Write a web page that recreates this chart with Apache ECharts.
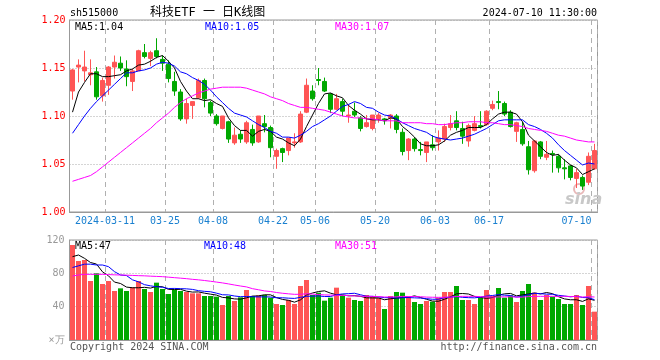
<!DOCTYPE html>
<html><head><meta charset="utf-8">
<script src="https://cdn.jsdelivr.net/npm/echarts/dist/echarts.min.js"></script>
<style>html,body{margin:0;padding:0;background:#fff}#c{width:660px;height:360px}</style>
</head><body><div id="c"></div>
<script>
const dates = [
'2024-03-01','2024-03-04','2024-03-05','2024-03-06','2024-03-07','2024-03-08',
'2024-03-11','2024-03-12','2024-03-13','2024-03-14','2024-03-15',
'2024-03-18','2024-03-19','2024-03-20','2024-03-21','2024-03-22',
'2024-03-25','2024-03-26','2024-03-27','2024-03-28','2024-03-29',
'2024-04-01','2024-04-02','2024-04-03',
'2024-04-08','2024-04-09','2024-04-10','2024-04-11','2024-04-12',
'2024-04-15','2024-04-16','2024-04-17','2024-04-18','2024-04-19',
'2024-04-22','2024-04-23','2024-04-24','2024-04-25','2024-04-26',
'2024-04-29','2024-04-30',
'2024-05-06','2024-05-07','2024-05-08','2024-05-09','2024-05-10',
'2024-05-13','2024-05-14','2024-05-15','2024-05-16','2024-05-17',
'2024-05-20','2024-05-21','2024-05-22','2024-05-23','2024-05-24',
'2024-05-27','2024-05-28','2024-05-29','2024-05-30','2024-05-31',
'2024-06-03','2024-06-04','2024-06-05','2024-06-06','2024-06-07',
'2024-06-11','2024-06-12','2024-06-13','2024-06-14',
'2024-06-17','2024-06-18','2024-06-19','2024-06-20','2024-06-21',
'2024-06-24','2024-06-25','2024-06-26','2024-06-27','2024-06-28',
'2024-07-01','2024-07-02','2024-07-03','2024-07-04','2024-07-05',
'2024-07-08','2024-07-09','2024-07-10'];

const opens = [1.126,1.151,1.147,1.143,1.146,1.121,1.132,1.151,1.155,1.149,
1.136,1.147,1.166,1.160,1.168,1.159,1.154,1.136,1.125,1.097,
1.111,1.119,1.137,1.114,1.100,1.087,1.094,1.072,1.081,1.073,
1.086,1.073,1.092,1.088,1.058,1.066,1.064,1.072,1.073,1.104,
1.126,1.138,1.136,1.123,1.107,1.115,1.100,1.105,1.098,1.089,
1.087,1.097,1.097,1.098,1.100,1.083,1.064,1.076,1.065,1.062,
1.070,1.073,1.076,1.088,1.095,1.087,1.074,1.085,1.090,1.091,
1.108,1.115,1.113,1.104,1.084,1.086,1.068,1.043,1.073,1.057,
1.061,1.058,1.046,1.048,1.035,1.036,1.031,1.045];
const closes = [1.148,1.153,1.151,1.145,1.120,1.137,1.151,1.156,1.150,1.141,
1.147,1.168,1.162,1.166,1.162,1.155,1.139,1.126,1.097,1.113,
1.115,1.137,1.118,1.103,1.092,1.100,1.076,1.080,1.076,1.093,
1.072,1.100,1.089,1.067,1.064,1.062,1.077,1.073,1.102,1.132,
1.118,1.137,1.126,1.107,1.118,1.105,1.101,1.101,1.087,1.093,
1.101,1.101,1.095,1.101,1.086,1.063,1.076,1.066,1.064,1.073,
1.067,1.077,1.089,1.092,1.088,1.079,1.090,1.092,1.089,1.105,
1.112,1.114,1.102,1.089,1.093,1.071,1.044,1.074,1.058,1.060,
1.060,1.046,1.045,1.036,1.041,1.027,1.058,1.064];
const lows = [1.117,1.135,1.136,1.132,1.117,1.115,1.122,1.139,1.147,1.131,
1.126,1.147,1.160,1.152,1.160,1.147,1.135,1.121,1.095,1.092,
1.097,1.118,1.109,1.100,1.090,1.086,1.072,1.070,1.072,1.071,
1.069,1.072,1.083,1.057,1.045,1.052,1.059,1.067,1.072,1.103,
1.116,1.132,1.125,1.103,1.106,1.100,1.093,1.099,1.084,1.088,
1.085,1.093,1.091,1.087,1.082,1.059,1.054,1.063,1.059,1.052,
1.064,1.064,1.073,1.085,1.085,1.071,1.068,1.084,1.087,1.090,
1.106,1.107,1.100,1.088,1.073,1.069,1.039,1.041,1.055,1.054,
1.041,1.041,1.034,1.033,1.025,1.023,1.028,1.044];
const highs = [1.149,1.159,1.168,1.159,1.151,1.140,1.152,1.163,1.162,1.158,
1.149,1.169,1.175,1.168,1.181,1.163,1.158,1.146,1.128,1.118,
1.115,1.139,1.139,1.116,1.102,1.100,1.095,1.088,1.085,1.095,
1.091,1.100,1.101,1.090,1.066,1.067,1.077,1.082,1.105,1.139,
1.132,1.150,1.140,1.124,1.123,1.118,1.112,1.114,1.100,1.101,
1.101,1.103,1.098,1.102,1.102,1.087,1.077,1.078,1.073,1.073,
1.080,1.085,1.092,1.101,1.105,1.094,1.092,1.100,1.105,1.106,
1.116,1.126,1.115,1.106,1.094,1.094,1.074,1.075,1.074,1.074,
1.064,1.060,1.055,1.049,1.045,1.038,1.062,1.071];

const ma5 = [1.104,1.125,1.135,1.144,1.144,1.141,1.141,1.142,1.143,1.147,
1.149,1.153,1.154,1.157,1.161,1.163,1.157,1.150,1.136,1.126,
1.118,1.118,1.116,1.117,1.113,1.110,1.098,1.090,1.085,1.085,
1.079,1.084,1.086,1.084,1.078,1.076,1.072,1.069,1.076,1.089,
1.101,1.113,1.123,1.124,1.121,1.119,1.111,1.106,1.102,1.097,
1.096,1.096,1.095,1.098,1.097,1.089,1.084,1.078,1.071,1.069,
1.069,1.070,1.074,1.080,1.083,1.085,1.088,1.088,1.088,1.091,
1.097,1.102,1.104,1.104,1.102,1.094,1.080,1.074,1.068,1.062,
1.059,1.060,1.054,1.049,1.046,1.039,1.042,1.045];
const ma10 = [1.082,1.091,1.100,1.108,1.115,1.121,1.127,1.133,1.139,1.145,
1.145,1.147,1.148,1.150,1.154,1.156,1.155,1.152,1.146,1.144,
1.140,1.137,1.133,1.127,1.120,1.114,1.108,1.103,1.101,1.099,
1.095,1.091,1.088,1.084,1.082,1.078,1.078,1.077,1.080,1.084,
1.089,1.092,1.096,1.100,1.105,1.110,1.112,1.115,1.113,1.109,
1.108,1.104,1.101,1.100,1.097,1.093,1.090,1.087,1.085,1.083,
1.079,1.077,1.076,1.075,1.076,1.077,1.079,1.081,1.084,1.087,
1.091,1.095,1.096,1.096,1.096,1.096,1.091,1.089,1.086,1.082,
1.077,1.070,1.064,1.059,1.054,1.049,1.051,1.050];
const ma30 = [1.032,1.034,1.036,1.038,1.042,1.047,1.052,1.057,1.062,1.067,
1.072,1.077,1.082,1.087,1.093,1.098,1.103,1.109,1.114,1.118,
1.121,1.124,1.126,1.128,1.129,1.130,1.130,1.130,1.130,1.129,
1.127,1.125,1.123,1.120,1.118,1.116,1.113,1.111,1.109,1.109,
1.108,1.107,1.106,1.104,1.102,1.100,1.099,1.098,1.098,1.097,
1.097,1.096,1.095,1.095,1.095,1.093,1.093,1.093,1.093,1.092,
1.092,1.091,1.091,1.092,1.093,1.093,1.094,1.094,1.094,1.093,
1.093,1.092,1.091,1.091,1.090,1.089,1.087,1.086,1.085,1.084,
1.082,1.080,1.079,1.077,1.075,1.074,1.073,1.073];

const volumes = [114,94.8,96,70.8,80,67.2,70.8,58.8,62,58.8,
63.2,70.8,61.2,57.6,68.8,61.2,55.2,60,58.8,57.6,
56,56,52.8,52.8,52,42,52.8,46.8,51.2,60,
52.8,53.6,54,50.8,43.2,42,48,43.2,64.8,72,
54,56.8,47.2,50.8,62.8,53.6,50.8,48,46.8,54,
52.8,50.8,37.2,52.8,57.6,56.8,52,45.6,43.2,46.8,
46,50.8,57.6,57.6,64.8,48,48,43.2,50.8,60,
52.8,62.4,50.8,53.6,45.6,58.8,67.2,56.8,48,54,
52,49.2,43.2,43.2,54,42,64.8,34];
const vma5 = [100,102,98,93,91.1,81.8,77.0,69.5,67.8,63.5,
62.7,62.7,63.2,62.3,64.3,63.9,60.8,60.6,60.8,58.6,
57.5,57.7,56.2,55.0,53.9,51.1,50.5,49.3,49.0,50.6,
52.7,52.9,54.3,54.2,50.9,48.7,47.6,45.4,48.2,54.0,
56.4,58.2,59.0,56.2,54.3,54.2,53.0,53.2,52.4,50.6,
50.5,50.5,48.3,49.5,50.2,51.0,51.3,53.0,51.0,48.9,
46.7,46.5,48.9,51.8,55.4,55.8,55.2,52.3,51.0,50.0,
51.0,53.8,55.4,55.9,53.0,54.2,55.2,56.4,55.3,57.0,
55.6,52.0,49.3,48.3,48.3,46.3,49.4,47.6];
const vma10 = [87,89,91,91,90,90,88,82,78,77.3,
72.2,69.8,66.4,65.0,63.9,63.3,61.8,61.9,61.6,61.4,
60.7,59.2,58.4,57.9,56.2,54.3,54.1,52.8,52.0,52.2,
51.9,51.7,51.8,51.6,50.7,50.7,50.2,49.9,51.2,52.4,
52.6,52.9,52.2,52.2,54.2,55.3,55.6,56.1,54.3,52.5,
52.4,51.8,50.8,51.0,50.4,50.8,50.9,50.6,50.3,49.6,
48.9,48.9,50.9,51.4,52.1,51.2,50.8,50.6,51.4,52.7,
53.4,54.5,53.8,53.4,51.5,52.6,54.5,55.9,55.6,55.0,
54.9,53.6,52.8,51.8,52.6,51.0,50.7,48.4];
const vma30 = [76.8,78.0,78.8,78.8,78.8,78.8,78.5,78.2,78.0,77.8,
77.5,77.2,77.0,76.6,76.3,76.0,75.4,74.8,74.2,73.6,
72.8,72.2,71.4,70.5,69.5,68.5,67.3,66.0,64.8,63.7,
61.6,60.3,58.9,58.2,57.0,56.1,55.4,54.8,54.9,55.4,
55.1,54.6,54.1,53.9,53.7,53.5,53.3,52.9,52.5,52.4,
52.3,52.1,51.6,51.6,51.8,52.3,52.2,52.2,51.9,51.5,
51.3,51.2,51.3,51.5,52.2,52.4,52.4,52.4,52.0,51.6,
51.5,51.7,51.8,51.9,51.4,51.5,52.1,52.4,52.4,52.4,
52.4,52.3,52.5,52.2,52.1,51.6,52.0,51.6];

const tickDates = ['2024-03-11','2024-03-25','2024-04-08','2024-04-22','2024-05-06',
  '2024-05-20','2024-06-03','2024-06-17','2024-07-10'];
const priceTicks = [1.00,1.05,1.10,1.15,1.20];
const volTicks = [0,40,80,120];
const maLabels = ['MA5:1.04','MA10:1.05','MA30:1.07'];
const volMaLabels = ['MA5:47','MA10:48','MA30:51'];

const MONO = '"DejaVu Sans Mono", monospace';
const FONT = '10px ' + MONO;
const RED = '#ff5555', GREEN = '#00a800';
const tickIdx = new Set(tickDates.map(d => dates.indexOf(d)));
const lastTick = tickDates[tickDates.length - 1];
const candleData = dates.map((d, i) => [opens[i], closes[i], lows[i], highs[i]]);
const volData = volumes.map((v, i) => ({ value: v, itemStyle: { color: closes[i] >= opens[i] ? RED : GREEN } }));

const chart = echarts.init(document.getElementById('c'), null, { renderer: 'canvas' });

const labRich = { fontFamily: MONO, fontSize: 10, color: '#1a80d0' };
function xAxisCfg(grid, showLabel) {
  return {
    type: 'category', gridIndex: grid, data: dates, boundaryGap: true,
    axisLine: { show: true, lineStyle: { color: '#999' } },
    axisTick: { show: false },
    axisLabel: {
      show: showLabel, interval: (i) => tickIdx.has(i), color: '#1a80d0',
      fontFamily: MONO, fontSize: 10, margin: 4,
      formatter: (v) => v === tickDates[0] ? '{a|' + v + '}' : (v === lastTick ? '{b|' + v.slice(5) + '}' : '{a|' + v.slice(5) + '}'),
      rich: {
        a: Object.assign({ padding: [0, 7, 0, 0] }, labRich),
        b: Object.assign({ padding: [0, 36, 0, 0] }, labRich)
      }
    },
    splitLine: { show: true, interval: (i) => tickIdx.has(i), lineStyle: { color: '#b0b0b0', type: [5, 4], width: 1 } }
  };
}
function lineSeries(data, color, xi, yi) {
  return { type: 'line', data: data, xAxisIndex: xi, yAxisIndex: yi, showSymbol: false, symbol: 'none',
    lineStyle: { color: color, width: 1 }, itemStyle: { color: color }, silent: true, z: 5 };
}
function txt(x, y, text, color, align) {
  return { type: 'text', x: x, y: y, z: 100,
    style: { text: text, fill: color, font: FONT, textVerticalAlign: 'middle', textAlign: align || 'left' } };
}

const option = {
  animation: false,
  backgroundColor: '#ffffff',
  grid: [
    { left: 69.5, top: 20, width: 528, height: 192, show: true, borderColor: '#999', borderWidth: 1, backgroundColor: 'transparent' },
    { left: 69.5, top: 240, width: 528, height: 100, show: true, borderColor: '#999', borderWidth: 1, backgroundColor: 'transparent' }
  ],
  xAxis: [xAxisCfg(0, true), xAxisCfg(1, false)],
  yAxis: [
    { type: 'value', gridIndex: 0, min: priceTicks[0], max: priceTicks[priceTicks.length - 1], interval: 0.05,
      axisLine: { show: true, lineStyle: { color: '#999' } }, axisTick: { show: false },
      axisLabel: { color: '#ff0000', fontFamily: MONO, fontSize: 10, margin: 4, formatter: (v) => v.toFixed(2) },
      splitLine: { show: true, lineStyle: { color: '#aaaaaa', type: [1, 2] } } },
    { type: 'value', gridIndex: 1, min: volTicks[0], max: volTicks[volTicks.length - 1], interval: 40,
      axisLine: { show: true, lineStyle: { color: '#999' } }, axisTick: { show: false },
      axisLabel: { color: '#999999', fontFamily: MONO, fontSize: 10, margin: 5, formatter: (v) => v === 0 ? '×万' : String(v) },
      splitLine: { show: true, lineStyle: { color: '#aaaaaa', type: [1, 2] } } }
  ],
  series: [
    { type: 'candlestick', xAxisIndex: 0, yAxisIndex: 0, data: candleData, barWidth: 4,
      itemStyle: { color: RED, color0: GREEN, borderColor: RED, borderColor0: GREEN, borderWidth: 1 } },
    lineSeries(ma5, '#000000', 0, 0),
    lineSeries(ma10, '#0000ff', 0, 0),
    lineSeries(ma30, '#ff00ff', 0, 0),
    { type: 'bar', xAxisIndex: 1, yAxisIndex: 1, data: volData, barWidth: 5 },
    lineSeries(vma5, '#000000', 1, 1),
    lineSeries(vma10, '#0000ff', 1, 1),
    lineSeries(vma30, '#ff00ff', 1, 1)
  ],
  graphic: [
    txt(70, 13, 'sh515000', '#000'),
    { type: 'text', x: 150, y: 13, z: 100, style: { text: '科技ETF 一 日K线图', fill: '#000', font: '12px "DejaVu Sans Mono", "Noto Sans CJK SC", sans-serif', textVerticalAlign: 'middle' } },
    txt(597, 13, '2024-07-10 11:30:00', '#000', 'right'),
    txt(75, 27, maLabels[0], '#000'),
    txt(205, 27, maLabels[1], '#0000ff'),
    txt(335, 27, maLabels[2], '#ff00ff'),
    txt(75, 246, volMaLabels[0], '#000'),
    txt(204, 246, volMaLabels[1], '#0000ff'),
    txt(335, 246, volMaLabels[2], '#ff00ff'),
    txt(70, 347, 'Copyright 2024 SINA.COM', '#555'),
    txt(597, 347, 'http://finance.sina.com.cn', '#555', 'right'),
    { type: 'circle', shape: { cx: 579, cy: 189, r: 5 }, z: 1, style: { fill: 'none', stroke: '#e8b8b8', lineWidth: 2 } },
    { type: 'text', x: 565, y: 200, z: 1, style: { text: 'sina', fill: '#c8c8c8', font: 'italic bold 16px "DejaVu Sans", sans-serif', textVerticalAlign: 'middle' } }
  ]
};
chart.setOption(option);
</script>
</body></html>
